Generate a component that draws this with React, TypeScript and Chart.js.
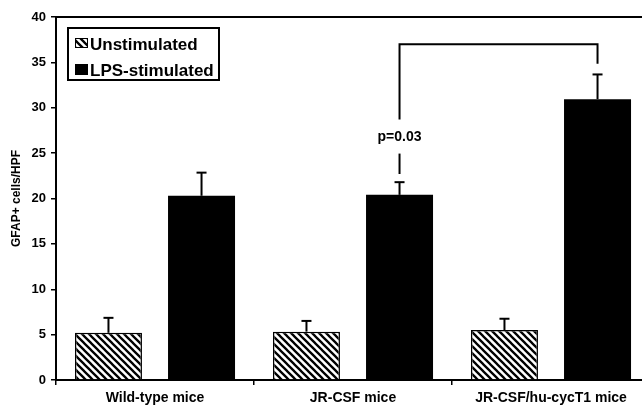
import React, { useEffect, useRef } from "react";
import { Chart, registerables } from "chart.js";

Chart.register(...registerables);

const categories = ["Wild-type mice", "JR-CSF mice", "JR-CSF/hu-cycT1 mice"];
const seriesNames = ["Unstimulated", "LPS-stimulated"];
const unstimulated = [5.2, 5.33, 5.5];
const unstimulatedErr = [1.65, 1.18, 1.25];
const lpsStimulated = [20.3, 20.4, 30.95];
const lpsStimulatedErr = [2.55, 1.4, 2.72];
const yTicks = { min: 0, max: 40, step: 5 };
const yTitle = "GFAP+ cells/HPF";
// significance bracket between LPS bars of group 1 (JR-CSF) and group 2 (hu-cycT1)
const bracketFrom = 1;
const bracketTo = 2;
const bracketTop = 37.0;
const bracketLeftBottom = 28.7;
const bracketRightBottom = 34.85;
const bracketDash = [22.7, 24.95];
const pLabel = "p=0.03";
const pLabelValue = 26.75;

const FONT = "'Liberation Sans', Arial, Helvetica, sans-serif";

function makeHatch(): CanvasPattern | string {
  const s = 7;
  const c = document.createElement("canvas");
  c.width = s;
  c.height = s;
  const ctx = c.getContext("2d");
  if (!ctx) return "#fff";
  ctx.fillStyle = "#fff";
  ctx.fillRect(0, 0, s, s);
  ctx.strokeStyle = "#000";
  ctx.lineWidth = 2.3;
  ctx.beginPath();
  for (const k of [-s, 0, s]) {
    ctx.moveTo(k - 1, -1);
    ctx.lineTo(k + s + 1, s + 1);
  }
  ctx.stroke();
  return ctx.createPattern(c, "repeat") || "#fff";
}

export default function App() {
  const ref = useRef<HTMLCanvasElement | null>(null);

  useEffect(() => {
    if (!ref.current) return;
    const hatch = makeHatch();
    const errs = [unstimulatedErr, lpsStimulatedErr];

    const overlay = {
      id: "overlay",
      afterDatasetsDraw(chart: any) {
        const ctx = chart.ctx as CanvasRenderingContext2D;
        const ys = chart.scales.y;
        const area = chart.chartArea;
        ctx.save();
        ctx.strokeStyle = "#000";
        ctx.lineCap = "butt";
        // error bars
        errs.forEach((arr, di) => {
          const meta = chart.getDatasetMeta(di);
          meta.data.forEach((el: any, i: number) => {
            const v = chart.data.datasets[di].data[i] as number;
            const yTop = ys.getPixelForValue(v + arr[i]);
            ctx.lineWidth = 2;
            ctx.beginPath();
            ctx.moveTo(el.x, el.y);
            ctx.lineTo(el.x, yTop);
            ctx.stroke();
            ctx.beginPath();
            ctx.moveTo(el.x - 5, yTop);
            ctx.lineTo(el.x + 5, yTop);
            ctx.stroke();
          });
        });
        // significance bracket
        const meta1 = chart.getDatasetMeta(1);
        const xa = meta1.data[bracketFrom].x;
        const xb = meta1.data[bracketTo].x;
        ctx.lineWidth = 2;
        ctx.beginPath();
        ctx.moveTo(xa, ys.getPixelForValue(bracketLeftBottom));
        ctx.lineTo(xa, ys.getPixelForValue(bracketTop));
        ctx.lineTo(xb, ys.getPixelForValue(bracketTop));
        ctx.lineTo(xb, ys.getPixelForValue(bracketRightBottom));
        ctx.stroke();
        ctx.beginPath();
        ctx.moveTo(xa, ys.getPixelForValue(bracketDash[0]));
        ctx.lineTo(xa, ys.getPixelForValue(bracketDash[1]));
        ctx.stroke();
        ctx.fillStyle = "#000";
        ctx.font = `bold 14px ${FONT}`;
        ctx.textAlign = "center";
        ctx.textBaseline = "middle";
        ctx.fillText(pLabel, xa, ys.getPixelForValue(pLabelValue));

        // top frame line
        ctx.lineWidth = 2;
        ctx.beginPath();
        ctx.moveTo(area.left, area.top);
        ctx.lineTo(area.right + 5, area.top);
        ctx.stroke();

        // legend
        const lx = area.left + 12;
        const ly = area.top + 11;
        ctx.lineWidth = 2;
        ctx.strokeRect(lx, ly, 151, 52);
        ctx.fillStyle = hatch as any;
        ctx.fillRect(lx + 7, ly + 10, 13, 10);
        ctx.lineWidth = 1;
        ctx.strokeRect(lx + 7.5, ly + 10.5, 12, 9);
        ctx.fillStyle = "#000";
        ctx.fillRect(lx + 7, ly + 36, 13, 11);
        ctx.font = `bold 17px ${FONT}`;
        ctx.textAlign = "left";
        ctx.textBaseline = "alphabetic";
        ctx.fillText(seriesNames[0], lx + 22, ly + 22);
        ctx.fillText(seriesNames[1], lx + 22, ly + 48);
        ctx.restore();
      },
    };

    const chart = new Chart(ref.current, {
      type: "bar",
      data: {
        labels: categories,
        datasets: [
          {
            label: seriesNames[0],
            data: unstimulated,
            backgroundColor: hatch as any,
            borderColor: "#000",
            borderWidth: 1.5,
            categoryPercentage: 0.94,
            barPercentage: 0.72,
          },
          {
            label: seriesNames[1],
            data: lpsStimulated,
            backgroundColor: "#000",
            borderColor: "#000",
            borderWidth: 0,
            categoryPercentage: 0.94,
            barPercentage: 0.72,
          },
        ],
      },
      options: {
        animation: false,
        responsive: false,
        devicePixelRatio: 1,
        layout: { padding: { top: 17, right: 2, left: 0, bottom: 0 } },
        plugins: {
          legend: { display: false },
          tooltip: { enabled: false },
          title: { display: false },
        },
        scales: {
          x: {
            grid: {
              display: true,
              drawOnChartArea: false,
              drawTicks: true,
              tickLength: 5,
              color: "#000",
              lineWidth: 1.5,
              offset: true,
            },
            border: { display: true, color: "#000", width: 2 },
            ticks: {
              color: "#000",
              padding: 5,
              maxRotation: 0,
              autoSkip: false,
              font: { family: FONT, size: 14, weight: "bold" },
            },
            afterFit: (s: any) => {
              s.height = 26;
            },
          },
          y: {
            min: yTicks.min,
            max: yTicks.max,
            grid: {
              display: true,
              drawOnChartArea: false,
              drawTicks: true,
              tickLength: 5,
              color: "#000",
              lineWidth: 1.5,
            },
            border: { display: true, color: "#000", width: 2 },
            ticks: {
              stepSize: yTicks.step,
              color: "#000",
              padding: 5,
              font: { family: FONT, size: 13, weight: "bold" },
            },
            title: {
              display: true,
              text: yTitle,
              color: "#000",
              padding: { top: 9, bottom: 0 },
              font: { family: FONT, size: 12, weight: "bold" },
            },
            afterFit: (s: any) => {
              s.width = 56;
            },
          },
        },
      },
      plugins: [overlay],
    });
    return () => chart.destroy();
  }, []);

  return (
    <div
      style={{
        position: "fixed",
        left: 0,
        top: 0,
        width: 642,
        height: 406,
        overflow: "hidden",
        background: "#fff",
      }}
    >
      <canvas ref={ref} width={652} height={406} style={{ width: 652, height: 406, display: "block" }} />
    </div>
  );
}
